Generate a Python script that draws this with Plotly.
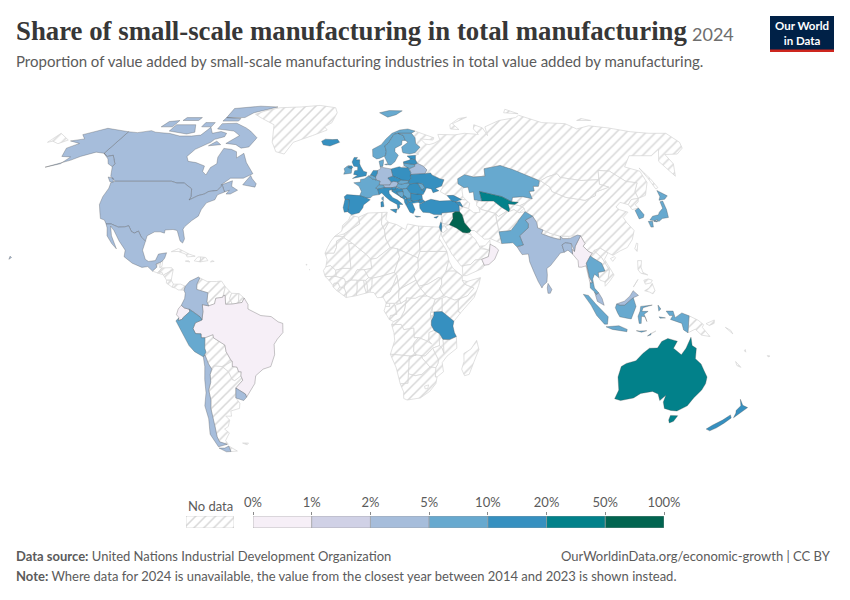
import numpy as np
import plotly.graph_objects as go

# --- legend / classes ---
bin_labels = ["0%", "1%", "2%", "5%", "10%", "20%", "50%", "100%"]
bin_colors = ["#f6eff7", "#d0d1e6", "#a6bddb", "#67a9cf", "#3690c0", "#02818a", "#016450"]

# countries with data, by class (index into bin_colors)
class_0 = ["Brazil", "Ecuador", "Oman", "Myanmar"]
class_2 = ["Canada", "USA", "Mexico", "Colombia", "Chile", "Uruguay", "Germany", "Austria", "Belarus",
           "India", "Bangladesh", "Sri Lanka", "Malaysia"]
class_3 = ["Peru", "Norway", "Sweden", "Finland", "Denmark", "France", "Ireland", "Belgium", "Switzerland",
           "Lithuania", "Hungary", "Slovakia", "Serbia", "Bosnia", "Moldova", "Kazakhstan", "Pakistan",
           "Thailand", "Indonesia", "Japan", "South Korea"]
class_4 = ["Iceland", "UK", "Spain", "Portugal", "Italy", "Netherlands", "Poland", "Czechia", "Slovenia",
           "Croatia", "Montenegro", "Albania", "North Macedonia", "Greece", "Bulgaria", "Romania", "Ukraine",
           "Estonia", "Latvia", "Turkey", "Cyprus", "Georgia", "Armenia", "Israel", "Tanzania", "New Zealand"]
class_5 = ["Uzbekistan", "Australia"]
class_6 = ["Iraq"]
classes = [class_0, [], class_2, class_3, class_4, class_5, class_6]

# --- simplified outlines, "lon,lat lon,lat ..." per ring ---
OUTLINES = {
    "Canada": ["-141,69.7 -135,69.3 -128,70.2 -124.5,69.5 -115,68.9 -108,67.8 -101,67.8 -96,68.2 -94,71.8 -90,69 -85.5,69.8 -81.5,69 -81.3,67.5 -86,66.3 -87,65 -93,62 -94.8,59 -92.5,57 -88,56.5 -82.5,55.1 -82,52.9 -79.5,51.5 -79,54.5 -76.7,56 -78,58.7 -77.5,62.4 -73,62 -69.5,61 -67.8,58.4 -65,60.3 -61.5,56.5 -57,53 -56,52 -60,50.2 -66.4,50.2 -70,47.5 -65,49.2 -64.5,47 -61,45.5 -64,44 -66,44 -65,45.5 -67,44.8 -67.8,45.7 -69.2,47.4 -70.8,45.4 -74.7,45 -76.5,44 -79.2,43.4 -82.7,41.7 -82.4,43 -83.5,46 -88.4,48.3 -92,48.3 -95.15,49 -100,49 -110,49 -123,49 -127,51 -130,54.8 -130,56 -135,59.5 -137.5,59 -141,60.3",
               "-80,73.7 -72,71.5 -68,70 -62,67 -64,63 -68,62.5 -72,64 -78,64.5 -73,68 -78,70 -89,71 -89,73.5",
               "-117,70 -105,68.7 -101,69.5 -105,73 -117,73", "-125,72 -118,72 -118,75 -124,74.5",
               "-90,76.5 -78,76.5 -75,79 -62,82.5 -75,83 -92,81.5", "-90,74.7 -80,74.7 -80,76 -90,76.5",
               "-116,75 -106,75 -106,76.5 -116,76.5", "-59.3,47.6 -55.5,46.9 -53,46.7 -52.8,48 -55.5,50 -56.8,51.3 -58,49.5",
               "-128,50.7 -125,50.2 -123.5,48.5 -125.5,48.8", "-87,63.5 -80.5,64 -84,65.5", "-100,72 -94,72 -94,74 -100,74"],
    "USA": ["-123,49 -110,49 -100,49 -95.15,49 -92,48.3 -88.4,48.3 -83.5,46 -82.4,43 -82.7,41.7 -79.2,43.4 -76.5,44 -74.7,45 -70.8,45.4 -69.2,47.4 -67.8,45.7 -67,44.8 -70,43.7 -70.5,41.8 -74,40.6 -75.5,38 -76,35.5 -78.5,33.8 -81,31.5 -81.5,30.5 -80,26.8 -80.5,25.2 -81.8,26 -82.8,28 -84,30 -86,30.4 -89.5,30.2 -89.5,29 -91.5,29.5 -94,29.5 -97,28 -97.2,25.9 -99.5,27.5 -101.4,29.8 -103,29 -104.5,29.6 -106.5,31.8 -108.2,31.4 -111,31.3 -114.8,32.5 -117.1,32.5 -118.5,34 -120.6,34.6 -122,36.8 -124,40 -124.5,43 -124,46.3 -124.7,48.4",
            "-141,69.7 -148,70.4 -156.5,71.3 -166,68.4 -161.5,66.5 -168,65.6 -161,64.5 -165,62.5 -162,59 -157,58.8 -158.5,56 -164.5,54.6 -155,57.5 -152,59 -149,60 -146,60.8 -141,60.3 -137.5,59 -135,59.5 -130,56 -130,54.8 -133.5,56 -136,58 -139.5,59.7 -141,60.3",
            "-156,19 -155,19.7 -155.8,20.2", "-158.2,21.3 -157.7,21.3 -158,21.7"],
    "Mexico": ["-117.1,32.5 -114.8,32.5 -111,31.3 -108.2,31.4 -106.5,31.8 -104.5,29.6 -103,29 -101.4,29.8 -99.5,27.5 -97.2,25.9 -97.8,22.5 -96,19 -94.5,18.2 -91.5,18.5 -90.5,21 -87,21.5 -87.5,19.5 -88.2,18.5 -89.1,17.9 -91,17.2 -90.5,16 -92.2,14.5 -94.5,16.2 -97,15.9 -101.5,17.5 -105.5,20 -105.5,22.5 -109,26 -112.5,30 -114.7,31.7 -113,28 -110,24 -109.5,23 -112,25 -115,28 -116,31"],
    "Guatemala": ["-92.2,14.5 -90.5,16 -91,17.2 -89.1,17.9 -89.2,15.9 -88.2,15.7 -89.3,14.4 -90,13.8"],
    "Belize": ["-89.1,17.9 -88.2,18.5 -88.3,16.3 -89.2,15.9"],
    "Honduras": ["-89.3,14.4 -88.2,15.7 -84,15.8 -83.2,15 -85,14 -87.3,13"],
    "El Salvador": ["-90,13.8 -89.3,14.4 -87.7,13.8 -87.8,13.2"],
    "Nicaragua": ["-87.3,13 -85,14 -83.2,15 -83.7,11 -85.7,11"],
    "Costa Rica": ["-85.7,11 -83.7,11 -82.6,9.5 -83,8.3 -85.7,9.9"],
    "Panama": ["-83,8.3 -82.6,9.5 -79.5,9.5 -77.4,8.7 -77.9,7.2 -80.4,7.3 -81.7,8"],
    "Cuba": ["-85,21.9 -82,23.1 -77,21 -74.2,20.2 -77.7,19.9 -78.5,21 -82,22"],
    "Haiti": ["-74.4,18.4 -71.7,18 -71.7,19.9 -73,19.9"],
    "Dominican Republic": ["-71.7,18 -68.4,18.5 -69.5,19.7 -71.7,19.9"],
    "Jamaica": ["-78.3,18.3 -76.3,18 -77,18.5"],
    "Puerto Rico": ["-67.2,18 -65.6,18.2 -66.5,18.5"],
    "Greenland": ["-73,78.2 -68,80 -60,82 -45,82.5 -32,83.5 -20,82 -18,79 -20,74 -24,72 -22,70.5 -30,68 -40,65 -43,60 -48,61 -52,65 -54,69 -56,73 -66,76"],
    "Colombia": ["-77.9,7.2 -77.4,8.7 -75.6,10.6 -72,12.2 -71.3,11.8 -72.4,9.5 -72.4,7.5 -70,7 -67.5,6.2 -67.8,2.8 -67,1.2 -69.8,1.7 -69.5,-1 -70,-4.2 -70.8,-3 -73.5,-1.2 -75.4,-0.1 -77.5,0.4 -78.9,1.4 -77.5,4 -77.3,6"],
    "Venezuela": ["-72,12.2 -68,10.5 -64,10.5 -61.8,10.7 -60,8.5 -60.7,5.2 -61,4.5 -64,4.1 -64.5,2 -67,1.2 -67.8,2.8 -67.5,6.2 -70,7 -72.4,7.5 -72.4,9.5 -71.3,11.8"],
    "Guyana": ["-60,8.5 -57.2,6 -58,4 -56.8,1.9 -59.7,1.8 -60,5.2 -60.7,5.2"],
    "Suriname": ["-57.2,6 -54,5.9 -54.2,2.2 -56.8,1.9 -58,4"],
    "French Guiana": ["-54,5.9 -51.7,4.2 -52.6,2.5 -54.2,2.2"],
    "Ecuador": ["-78.9,1.4 -77.5,0.4 -75.4,-0.1 -75.2,-1 -78.3,-3.4 -78.4,-3.9 -80.3,-4.4 -80,-3.2 -81,-2.2 -80.2,0"],
    "Peru": ["-81.3,-4.5 -80,-3.4 -80.3,-4.4 -78.4,-3.9 -78.3,-3.4 -75.2,-1 -75.4,-0.1 -73.5,-1.2 -70.8,-3 -70,-4.2 -72.9,-5.3 -74,-7.5 -73,-9.4 -70.6,-9.5 -70.6,-11 -69,-11 -69.4,-15 -69,-16.5 -69.6,-17.5 -70.4,-18.3 -74,-16.3 -76.2,-14 -78,-10.5 -79.8,-7.2"],
    "Brazil": ["-51.7,4.2 -50,1.7 -50,0 -48,-1 -44.5,-2.5 -40,-2.9 -37,-4.9 -35,-5.5 -35,-9 -37.5,-11.5 -39,-13.5 -39,-17.5 -41,-22 -44.5,-23 -48,-25.5 -48.8,-28.5 -52,-32 -53.4,-33.7 -53.7,-32.5 -57.6,-30.2 -54,-27.2 -54.6,-25.6 -54.3,-24 -55.4,-24 -56,-22.2 -58,-22 -57.8,-20 -58.2,-19.8 -60.2,-16.3 -60.5,-13.8 -65.3,-11 -65.4,-9.8 -69,-11 -70.6,-11 -70.6,-9.5 -73,-9.4 -74,-7.5 -72.9,-5.3 -70,-4.2 -69.5,-1 -69.8,1.7 -67,1.2 -64.5,2 -64,4.1 -61,4.5 -60.7,5.2 -60,5.2 -59.7,1.8 -56.8,1.9 -54.2,2.2 -52.6,2.5"],
    "Bolivia": ["-69,-11 -65.4,-9.8 -65.3,-11 -60.5,-13.8 -60.2,-16.3 -58.2,-19.8 -58.2,-20.2 -62.5,-22 -66.3,-21.8 -67.2,-23 -68.4,-21 -69.6,-17.5 -69,-16.5 -69.4,-15"],
    "Paraguay": ["-58.2,-19.8 -57.8,-20 -58,-22 -56,-22.2 -55.4,-24 -54.3,-24 -54.6,-25.6 -57.6,-27.4 -58.7,-27 -60,-24 -62.5,-22 -58.2,-20.2"],
    "Uruguay": ["-57.6,-30.2 -53.7,-32.5 -53.4,-33.7 -55,-35 -58.4,-34 -58.2,-33"],
    "Chile": ["-70.4,-18.3 -69.6,-17.5 -68.4,-21 -67.2,-23 -68.2,-25 -68.5,-28 -70,-31 -70,-35 -71,-38 -71.5,-42 -71.7,-45 -72.5,-49 -72.3,-51 -69,-52 -74,-53 -75.5,-48 -73.5,-42 -73.5,-37 -71.5,-32 -71,-27 -70.2,-22",
              "-68.6,-52.7 -68.6,-54.9 -71,-55 -74,-53.5 -71,-53.5"],
    "Argentina": ["-66.3,-21.8 -62.5,-22 -60,-24 -58.7,-27 -57.6,-27.4 -54.6,-25.6 -54,-27.2 -57.6,-30.2 -58.2,-33 -58.4,-34 -57,-36 -57.7,-38 -62,-39 -62.3,-41 -65,-41 -63.7,-42.5 -65.3,-45 -67.5,-46 -65.8,-47.5 -69,-50.5 -68.5,-52 -69,-52 -72.3,-51 -72.5,-49 -71.7,-45 -71.5,-42 -71,-38 -70,-35 -70,-31 -68.5,-28 -68.2,-25 -67.2,-23",
                  "-68.6,-52.7 -65.2,-54.7 -68.6,-54.9"],
    "Falklands": ["-61,-51.5 -58,-51.5 -59,-52.2"],
    "Morocco": ["-5.9,35.8 -2.2,35.1 -1.7,32.5 -3.5,31.5 -8.7,28.7 -13,27.7 -9.8,29.8 -9.5,32 -6.8,34"],
    "Western Sahara": ["-13,27.7 -8.7,27.7 -12,26 -12,23.4 -13,21.3 -17,21.3 -16,23.5 -14.5,26"],
    "Algeria": ["-2.2,35.1 2,36.7 8.6,36.9 8.2,32.5 9.5,30.2 9.9,27 11.9,23.5 5.8,19.4 3.2,19 1.1,20.9 -4.8,25 -8.7,27.2 -8.7,28.7 -3.5,31.5 -1.7,32.5"],
    "Tunisia": ["8.6,36.9 11,37 10.2,34.3 11.5,33.1 9.5,30.2 8.2,32.5"],
    "Libya": ["11.5,33.1 15,32.3 19,30.3 20,32.5 25,31.7 25,22 24,19.5 15,23 11.9,23.5 9.9,27 9.5,30.2"],
    "Egypt": ["25,31.7 31,31.5 34.2,31.3 35,29.5 33.8,27 35.8,23.9 36.9,22 25,22"],
    "Mauritania": ["-17,21.3 -13,21.3 -12,23.4 -12,26 -8.7,27.2 -4.8,25 -6.5,25 -5.5,15.5 -9.3,15.5 -12.2,14.8 -14.5,16.6 -16.5,16.1 -16,19"],
    "Mali": ["-4.8,25 1.1,20.9 3.2,19 3.6,15.5 0.3,15 -2.8,15 -5.3,11 -7.9,10.3 -8.3,11.5 -12,12.4 -12.2,14.8 -9.3,15.5 -5.5,15.5 -6.5,25"],
    "Niger": ["3.2,19 5.8,19.4 11.9,23.5 15,23 15.9,20 13.5,14 9,12.8 3.7,11.7 2.2,12 0.3,15 3.6,15.5"],
    "Chad": ["15,23 24,19.5 24,15.7 22,13 22.9,11 19,9 15.5,7.5 15,10 14.5,12.8 13.5,14 15.9,20"],
    "Sudan": ["24,19.5 25,22 36.9,22 37.5,18.5 36,14.3 34,11.5 32.7,12 28,9.5 24,8.7 22.9,11 22,13 24,15.7"],
    "South Sudan": ["24,8.7 28,9.5 32.7,12 34,11.5 34,9.5 33,7.8 35,5 31,3.7 27.4,5 24.5,8"],
    "Eritrea": ["36,14.3 37.5,18.5 39,15.7 43.1,12.6 40,14.5 37,14.5"],
    "Ethiopia": ["36,14.3 37,14.5 40,14.5 43.1,12.6 43,11 44,9.5 48,8 45,5 42,4 39.5,3.4 35.9,4.7 35,5 33,7.8 34,9.5 34,11.5"],
    "Somalia": ["43,11 45,10.5 51,12 50,9 48,4.5 42,-1.5 41,-1 41,3.5 42,4 45,5 48,8 44,9.5"],
    "Kenya": ["35.9,4.7 39.5,3.4 42,4 41,3.5 41,-1 42,-1.5 39.2,-4.7 37.7,-3.6 34,-1 34,4.2"],
    "Uganda": ["31,3.7 34,4.2 34,-1 30.5,-1.1 29.6,-1.3 30,1"],
    "Tanzania": ["30.5,-1.1 34,-1 37.7,-3.6 39.2,-4.7 38.8,-6.5 39.5,-9 40.4,-10.5 37.5,-11.7 34.6,-11.6 33,-9.4 30.7,-8.2 29.4,-6.2 29.4,-4.5 30.5,-2.5"],
    "Rwanda": ["29,-1.4 30.5,-1.1 30.5,-2.5 29,-2.7"],
    "Burundi": ["29,-2.7 30.5,-2.5 29.4,-4.5"],
    "DR Congo": ["12.2,-6 13,-4.8 16,-3.5 17.7,-0.5 18.5,3.5 18.6,4.3 22.4,4.1 24.5,5 27.4,5 31,3.7 30,1 29,-1.4 29,-2.7 29.4,-4.5 29.4,-6.2 30.7,-8.2 28.5,-9 28.5,-12.2 29.8,-13.4 27,-12 23.9,-10.9 22,-11 21.8,-7.3 17.5,-7.9 16.3,-5.9"],
    "Congo": ["11.2,-4 13,-4.8 16,-3.5 17.7,-0.5 18.5,3.5 16.2,2.2 13.8,1.5 14.4,-2 11.6,-2.5"],
    "Gabon": ["8.9,-0.7 9.5,1 11.3,1 11.3,2.2 13.3,2.2 14.4,-2 11.6,-2.5 11.2,-4"],
    "Equatorial Guinea": ["9.5,1 9.8,2.3 11.3,2.2 11.3,1"],
    "Cameroon": ["8.5,4.5 9.8,2.3 11.3,2.2 16.2,2.2 15.2,4.5 15.5,7.5 15,10 14.5,12.8 13,9.5 11.5,6.5 8.9,5.8"],
    "CAR": ["15.2,4.5 16.2,2.2 18.5,3.5 18.6,4.3 22.4,4.1 24.5,5 27.4,5 24.5,8 24,8.7 22.9,11 19,9 15.5,7.5"],
    "Nigeria": ["2.7,6.4 4.5,6.3 6,4.3 8.5,4.5 8.9,5.8 11.5,6.5 13,9.5 14.5,12.8 13.5,14 9,12.8 3.7,11.7 3.6,9"],
    "Benin": ["1.6,6.2 2.7,6.4 3.6,9 3.7,11.7 2.2,12 0.9,11 1.6,9"],
    "Togo": ["1.2,6.1 1.6,6.2 1.6,9 0.9,11 0,11 0.5,8"],
    "Ghana": ["-3.1,5.1 1.2,6.1 0.5,8 0,11 -2.9,11 -2.8,8"],
    "Burkina Faso": ["-5.3,11 -2.8,15 0.3,15 2.2,12 0.9,11 -2.9,11"],
    "Cote d'Ivoire": ["-7.5,4.4 -3.1,5.1 -2.8,8 -2.9,11 -5.3,11 -7.9,10.3 -8.4,8 -7.5,6"],
    "Liberia": ["-11.5,7 -7.5,4.4 -7.5,6 -8.4,8 -9.5,8.4 -10.3,8.5"],
    "Sierra Leone": ["-13.3,8.5 -11.5,7 -10.3,8.5 -11,10 -12.8,9.9"],
    "Guinea": ["-15,11 -13.3,9 -12.8,9.9 -11,10 -10.3,8.5 -9.5,8.4 -8.4,8 -7.9,10.3 -8.3,11.5 -12,12.4 -13.7,12.5"],
    "Guinea-Bissau": ["-16.7,12.4 -15,11 -13.7,12.5"],
    "Senegal": ["-17.5,14.7 -16.7,12.4 -13.7,12.5 -12,12.4 -12.2,14.8 -14.5,16.6 -16.5,16.1"],
    "Angola": ["12.2,-6 16.3,-5.9 17.5,-7.9 21.8,-7.3 22,-11 23.9,-10.9 22,-13 22,-16.2 23.2,-17.6 20.8,-18 13.8,-17.4 11.8,-17.3 13.6,-12 13.2,-9"],
    "Zambia": ["22,-13 23.9,-10.9 27,-12 29.8,-13.4 28.5,-12.2 28.5,-9 30.7,-8.2 33,-9.4 33,-11 33.2,-14 30.2,-15 28.8,-16.5 27,-18 25.3,-17.8 23.2,-17.6 22,-16.2"],
    "Malawi": ["33,-9.4 34.6,-11.6 35,-14 35.3,-17 34.3,-15 33.2,-14 33,-11"],
    "Mozambique": ["40.4,-10.5 40.8,-15 36.7,-18 34.7,-20.5 35.5,-24 32.8,-26 32,-26 32,-22.4 32.8,-21 33,-19.5 30.2,-15 33.2,-14 34.3,-15 35.3,-17 35,-14 34.6,-11.6 37.5,-11.7"],
    "Zimbabwe": ["25.3,-17.8 27,-18 28.8,-16.5 30.2,-15 33,-19.5 32.8,-21 32,-22.4 29.4,-22.2 26,-19"],
    "Botswana": ["20,-22 20,-18.3 23.2,-17.6 25.3,-17.8 26,-19 29.4,-22.2 26,-25 23,-25.5 20,-24.8"],
    "Namibia": ["11.8,-17.3 13.8,-17.4 20.8,-18 23.2,-17.6 20,-18.3 20,-22 20,-28.4 16.5,-28.6 14.5,-22.5"],
    "South Africa": ["16.5,-28.6 20,-28.4 20,-24.8 23,-25.5 26,-25 29.4,-22.2 32,-22.4 32,-26 32.8,-26 32.5,-28.5 30,-31.5 26,-34 20,-34.8 18.4,-34.2 18.2,-31.7"],
    "Lesotho": ["27.5,-29.5 29.3,-29 29,-30.4 27.8,-30.5"],
    "Madagascar": ["49.3,-12 50.5,-15.5 49.5,-18 47,-25 45,-25.5 43.5,-23 44.3,-20 44,-17 47,-15.3"],
    "Cape Verde": ["-25.2,17 -24.8,17.1 -25,16.7", "-23.7,15 -23.4,15.1 -23.6,15.3"],
    "Iceland": ["-24,65.5 -22,66.4 -18,66.2 -15,66.3 -13.6,65 -18.8,63.4 -22.7,63.9"],
    "Ireland": ["-10,51.8 -6.2,52.2 -6,53.5 -6.2,54.2 -8,54.5 -7.4,55.3 -8.5,55 -10,54 -9.5,53"],
    "UK": ["-5.5,50.1 -1,50.7 1.3,51.2 1.7,52.6 0,53 -1.5,55 -2,56 -2,57.6 -4,57.6 -3.2,58.6 -5,58.6 -6,56.7 -5,55 -3,54.8 -3,53.4 -4.5,53.2 -5,51.7 -3,51.4",
           "-6,54 -5.5,54.6 -6.2,55.2 -7.4,55.1 -8,54.5"],
    "Portugal": ["-8.9,37 -7.4,37.2 -7,39 -6.9,41.9 -8.8,41.9 -9.5,38.8"],
    "Spain": ["-7.4,37.2 -5.5,36 -2,36.8 -0.3,38.7 0,39.8 3.2,41.8 1.5,42.5 -1.8,43.4 -8,43.8 -9.2,43 -8.8,41.9 -6.9,41.9 -7,39"],
    "France": ["-1.8,43.4 1.5,42.5 3.2,42.5 4.5,43.4 7.5,43.8 7,45.5 7,45.9 6,46.3 7.6,47.6 8.2,49 6.2,49.5 4.3,50 2.5,51.1 0.5,50 -1.5,49.7 -1.5,48.7 -4.8,48.4 -2.2,47 -1,45",
               "8.7,42 9.4,41.4 9.5,43 8.7,42.6"],
    "Belgium": ["2.5,51.1 4.3,51.4 6,50.7 6.2,49.5 4.3,50"],
    "Netherlands": ["3.4,51.4 4.3,51.4 6,50.7 7,52.2 7.2,53.3 5,53.3"],
    "Germany": ["6,50.7 7,52.2 7.2,53.3 8.8,54 8.6,54.9 10,54.5 14.2,53.9 14.8,51 12.2,50.3 13.8,48.7 13,47.5 9.6,47.5 7.6,47.6 8.2,49 6.2,49.5"],
    "Switzerland": ["6,46.3 7,45.9 10.4,46.5 9.6,47.5 7.6,47.6"],
    "Austria": ["9.6,47.5 10.4,46.5 13.8,46.5 16.1,46.8 17,48.1 17,48.7 15,49 13.8,48.7 13,47.5"],
    "Italy": ["7.5,43.8 8.8,44.4 10.5,43 12.5,41.5 15.8,40 16,38 17,39 16.8,40 18.5,40 16.2,41.7 14,42.6 12.4,44.2 12.3,45.4 13.7,45.7 13.8,46.5 10.4,46.5 7,45.9 7,45.5",
              "12.5,38 15.6,38.2 15.1,36.7", "8.2,39 9.6,39.2 9.3,41.2 8.2,40.9"],
    "Denmark": ["8.6,54.9 10,54.9 10.5,56.5 10.6,57.7 8.2,57", "11,55.7 12.5,55.5 12.5,56"],
    "Norway": ["5,59 7,58 8.5,58.2 10.7,59 11.8,59.3 12.5,61 12,63.5 14,64.5 15.5,66.2 18,68.5 20.5,69 25.5,69 28.5,69 31,70 27,71 22,70.5 17,69 13,66.5 10,64 5,62",
               "11,79 16,76.7 22,78 27,80 18,80.2"],
    "Sweden": ["11.2,59 13,55.5 14.3,55.5 16.5,56.8 18.8,59.5 17.2,61 17.5,62.5 21.5,64 22.2,65.8 24,65.8 23.5,68 20.5,69 18,68.5 15.5,66.2 14,64.5 12,63.5 12.5,61 11.8,59.3"],
    "Finland": ["21.5,60.5 25,60 28,60.5 31.5,62.9 29.5,64.5 30,67 28.5,69 25.5,69 20.5,69 23.5,68 24,65.8 25.3,65 21.3,63 21.3,61"],
    "Estonia": ["23.4,59.2 28,59.5 27.5,57.6 25,58"],
    "Latvia": ["21,56.8 24.3,57.5 25,58 27.5,57.6 28.2,56.2 26.5,55.7 21,56.3"],
    "Lithuania": ["21,56.3 26.5,55.7 26.6,55 23.5,54 21,55.3"],
    "Poland": ["14.2,53.9 18.5,54.8 19.8,54.4 23,54.4 24,52.5 23.5,51 24,50.4 22.7,49.2 19,49.5 14.8,51"],
    "Czechia": ["12.2,50.3 14.8,51 18.8,49.6 17,48.7 15,49 13.8,48.7"],
    "Slovakia": ["17,48.1 17,48.7 18.8,49.6 22.5,49.2 22,48.4 18.7,47.9"],
    "Hungary": ["16.1,46.8 17,48.1 18.7,47.9 22,48.4 22.9,48 21,46.2 18.8,45.9"],
    "Slovenia": ["13.7,45.5 13.8,46.5 16.1,46.8 15.5,45.5"],
    "Croatia": ["13.6,45.1 14,45.1 13.7,45.5 15.5,45.5 16.1,46.5 18.8,45.9 19,45 15.8,44.8 17.5,43 18.5,42.5 15.5,44"],
    "Bosnia": ["15.8,44.8 19,45 19.2,43.5 18.5,42.5 17.5,43"],
    "Serbia": ["18.8,45.9 21,46.2 22.7,44.3 22.5,42.4 20.5,42.3 19.2,43.5 19,45"],
    "Montenegro": ["18.5,42.5 19.2,43.5 20.5,42.8 19.3,41.9"],
    "Albania": ["19.3,41.9 20.5,42.4 21,40.7 20,39.7 19.4,40.7"],
    "North Macedonia": ["20.5,42.3 22.5,42.4 23,41.3 21,40.9"],
    "Greece": ["20,39.7 21,40.7 23,41.3 26.3,41.6 26,40.8 23,40.4 24,38 23,36.5 21.5,37", "23.6,35.6 26.3,35.3 24.5,35.1"],
    "Bulgaria": ["22.5,42.4 22.7,44.3 28,43.8 28,42 26.3,41.6 23,41.3"],
    "Romania": ["22.9,48 26.6,48.3 28.2,45.6 29.6,45 28.6,43.8 28,43.8 22.7,44.3 21,46.2"],
    "Moldova": ["26.6,48.3 29,48 30,46.4 28.2,45.6"],
    "Ukraine": ["22.7,49.2 24,50.4 23.5,51 24,51.7 31,52 34,52.3 34.5,51.5 38,50 40,49.6 38.2,47.1 35,46.2 36.5,45.3 33.5,44.5 33,46 30.7,46.4 29.6,45 28.2,45.6 30,46.4 29,48 26.6,48.3 22.9,48 22,48.4 22.5,49.2"],
    "Belarus": ["23.5,51 24,52.5 23.5,54 26.6,55 26.5,55.7 28.2,56.2 31,55 32.5,53.5 31,52 24,51.7"],
    "Turkey": ["26.3,40 29,41.1 32,42 36,41.3 41.5,41.5 43.5,41 44.8,39.7 44.5,37.2 42.5,37.2 38,36.8 36.2,36.7 36,36 32.5,36.1 30.5,36.8 27.5,37 26.3,38.5",
               "26.3,41.6 28,42 29,41.2 26.5,40.3 26,40.8"],
    "Cyprus": ["32.3,35 34.5,35.6 33.5,34.7"],
    "Georgia": ["40,43.4 43,43.5 46.5,41.9 43.5,41 41.5,41.5"],
    "Armenia": ["43.5,41 45.5,41 46.5,39 44.8,39.7"],
    "Azerbaijan": ["45.5,41 46.5,41.9 48.5,41.8 50,40.5 49,38.4 46.5,39"],
    "Russia": ["28.2,56.2 27.5,57.6 28,59.5 30,60 28,60.5 31.5,62.9 29.5,64.5 30,67 28.5,69 31,70 33,69.4 41,67 40,66 35,66.5 33,66.5 35,64.3 37,64 40,64.6 44,66 44,68.5 54,68.3 60,69 68,68.5 67,71 69,73 73,71.5 73,68 75,72 81,73.5 87,75 100,76.5 104,77.7 113,74 127,73.5 130,71 140,72.5 150,71.5 160,69.7 170,69 180,69 180,65 177,62.5 170,60 163,59.8 162,56 156.7,51 155.7,57 163,62 155,59.3 143,59.3 135,54.7 141,53 140,48.5 135,43.5 130.7,42.3 131,45 135,48.4 130,48.9 126.9,51.5 125.5,53 120,53.3 117,49.6 108,49.3 98.5,50.5 98,52 92,50.7 87.8,49.2 83,51 77,53.5 71,55.3 62,54 61,51 55,50.7 51,51.6 47,50 46.5,48 49,46.5 47.7,45.7 47.5,43 48.5,41.8 46.5,41.9 43,43.5 40,43.4 37,45 39,47 38.2,47.1 40,49.6 38,50 34.5,51.5 34,52.3 31,52 32.5,53.5 31,55",
               "-180,69 -175,67.5 -170,66 -173,64.4 -178,65.5 -180,65", "142,54.3 143,50 143.5,46.5 142,46 142,50",
               "53,71 58,70.7 56,73.5 68,76.7 62,76 54,73", "96,79 105,78.5 100,81", "137,75 146,75 142,76",
               "19.8,54.4 23,54.4 22.5,55 20.8,55.2"],
    "Kazakhstan": ["47,50 51,51.6 55,50.7 61,51 62,54 71,55.3 77,53.5 83,51 87.3,49.2 85.5,47 83,47 82.5,45.2 80,45 80.2,42.2 76,43 71,42.7 70,41 66,43 61,44 56,45 56,41.3 53,42 52.5,41.8 53,44.8 51,44.5 51,46.7 49,46.5 46.5,48"],
    "Uzbekistan": ["56,45 61,44 66,43 70,41 73,40.8 71,40 68,40.2 68,38 67.4,37.2 64.5,38.9 61.5,41.3 57,41.3 56,41.3"],
    "Turkmenistan": ["52.5,41.8 53,42 56,41.3 57,41.3 61.5,41.3 64.5,38.9 67.4,37.2 66.5,37.4 62,35.3 61,36.5 55,38 53.8,39 53,39.5 53.5,41"],
    "Tajikistan": ["68,38 68,40.2 71,40 73,39.5 75,38.5 72,36.8 70,38 67.4,37.2"],
    "Kyrgyzstan": ["70,41 71,42.7 76,43 80.2,42.2 76,40.4 73,39.5 71,40 73,40.8"],
    "Afghanistan": ["61,36.5 62,35.3 66.5,37.4 67.4,37.2 70,38 72,36.8 74.9,37.2 71,34 70,33 66.5,30 61,29.5 60.8,33.5"],
    "Pakistan": ["61.5,25 66.5,25.3 68,23.8 71,24.5 70,28 74.5,31 75,32.5 74,34 77.8,35.5 74.9,37.2 71,34 70,33 66.5,30 61,29.5"],
    "Iran": ["44.8,39.7 46.5,39 49,38.4 51,36.8 54,37 53.8,39 55,38 61,36.5 60.8,33.5 61,29.5 61.5,25 57,26.8 54,26.7 50,30 48.5,30 46,33 45.5,36 44.5,37.2"],
    "Iraq": ["42.5,37.2 44.5,37.2 45.5,36 46,33 48.5,30 47.7,29.2 46.5,29.1 44.7,29.2 42,31 39,32.2 41,34.5 41.2,36.5"],
    "Syria": ["36.2,36.7 38,36.8 42.5,37.2 41.2,36.5 41,34.5 39,32.2 36,32.7 35.8,35.5"],
    "Jordan": ["35,29.5 35.5,31.5 35.6,32.7 36,32.7 39,32.2 37,31.5 38,30.5 36,29.2"],
    "Lebanon": ["35.1,33.1 35.8,33.3 36.3,34.5 35.9,34.5"],
    "Israel": ["34.3,31.3 35.1,33.1 35.6,33 35.5,31.5 35,29.5"],
    "Saudi Arabia": ["35,29.5 36,29.2 38,30.5 37,31.5 39,32.2 42,31 44.7,29.2 46.5,29.1 47.7,28.5 48.5,28 50,26.5 51,24.5 52,23 55,22.7 55.7,22 55,20 52,19 49,18.7 47,17 43.3,16.5 42.8,16.4 39,21 37,24.5 35,28"],
    "Kuwait": ["46.5,29.1 47.7,29.2 48.4,28.5 47.7,28.5"],
    "UAE": ["51.5,24 54,24.2 56.4,26.3 56.3,24.8 55.7,22 55,22.7 52,23.5"],
    "Oman": ["56.3,24.8 58.7,23.6 59.8,22.5 57.7,19 55,17 53,16.7 52,19 55,20 55.7,22"],
    "Yemen": ["43.3,12.7 45,12.8 52,15.5 53,16.7 52,19 49,18.7 47,17 43.3,16.5"],
    "India": ["68.2,23.7 71,24.5 70,28 74.5,31 75,32.5 74,34 77.8,35.5 79,33 78.8,31 81,30.2 80,28.8 84,27.4 88,26.5 88.2,27.8 89,26.9 92,26.9 96,28.3 97.3,28 94,24 93.3,22 92.4,25 89.8,25.3 88.2,24.5 88.8,21.7 87,21.4 85,19.5 82,16.6 80.2,15.5 80.2,13 79.8,10.3 78,8.9 77.5,8 76,10.5 74.5,14 73,18 72.8,21 70,20.8 69,22.3"],
    "Nepal": ["80,28.8 81,30.2 84,28.9 88.2,27.8 88,26.5 84,27.4"],
    "Bhutan": ["89,26.9 88.8,27.9 92,27.8 92,26.9"],
    "Bangladesh": ["88.2,24.5 89.8,25.3 92.4,25 92.4,22.8 92.3,21 90.5,22.5 88.8,21.7"],
    "Sri Lanka": ["79.8,8 80.2,9.8 81.8,7.5 81,6 80,6"],
    "Myanmar": ["92.3,21 92.4,22.8 93.3,22 94,24 97.3,28 98.5,25 97.5,24 99.5,22 101,21.3 100,20.3 97.8,17.5 98.5,12 99.6,10 98.5,10 97.5,16.5 95.5,16 94.2,16 94.3,18.5"],
    "Thailand": ["97.8,17.5 100,20.3 101,19.5 104.5,17.5 105.5,14.5 102.5,14 102.5,12 100.8,13.3 99.8,11.5 100,9 100.3,8 102,6.2 101,5.6 100.2,6.6 98.5,8 98.5,10 99.6,10 98.5,12"],
    "Laos": ["100,20.3 101,21.3 102,22.4 105,19.5 107.5,15 105.5,14.5 104.5,17.5 101,19.5"],
    "Vietnam": ["102,22.4 105,23.3 108,21.5 106,19 109.3,13 107,10.5 105,8.7 105,10.4 106.5,11.5 107.5,15 105,19.5"],
    "Cambodia": ["102.5,12 102.5,14 105.5,14.5 107.5,15 106.5,11.5 105,10.4 103,11"],
    "Malaysia": ["100.2,6.6 101,5.6 102,6.2 103.4,4 104.2,1.4 101.3,2.9",
                 "109.6,1.9 111,1.4 113,1.4 115,2.9 116.9,4.3 119.2,5.2 117,7 115.4,4.9 113,3 111.3,2.5"],
    "Indonesia": ["109,0.5 109.6,1.9 111,1.4 113,1.4 115,2.9 116.9,4.3 118,1 116,-3.8 114,-3.5 111,-3 110,-1.5",
                  "95.3,5.6 97.5,5.2 100.5,2 103.5,-1 106,-3 105.8,-5.8 104.5,-5.8 101,-2.5 98.5,1.5",
                  "105.2,-6.8 108.5,-6.7 110.8,-6.4 114.5,-7.8 114.4,-8.7 108,-7.8",
                  "119.5,-5.5 120.4,-5.5 120.4,-2.8 122,-3 122.8,-4.8 121.5,-2 123.2,-0.9 120.5,-0.9 121,0.5 125,1.5 120,1 119.7,-0.8 118.9,-2.8",
                  "118.5,-8.3 120,-8.4 123,-8.3 120.8,-8.9", "123.5,-10.3 125,-9.3 124.9,-9.9", "127.5,1.5 128.7,0 127.8,-0.8",
                  "128,-3 130.8,-3.4 128.5,-3.5", "131,-0.8 134,-0.8 135,-3.3 137.8,-1.5 141,-2.6 141,-9.1 139,-8 138,-5.5 133,-4 134,-2.5 132.5,-2.5"],
    "Timor-Leste": ["125,-9.3 127,-8.4 125,-9.5"],
    "PNG": ["141,-2.6 145,-4.3 147.5,-6 147,-7 150.7,-10.5 147,-10 144,-7.7 141,-9.1", "148.5,-5.6 152,-4.2 152,-5.5 150,-6.3"],
    "Solomon Islands": ["157,-7 159.5,-8.2 160.5,-9.5"],
    "Vanuatu": ["167,-15.5 167.5,-16.5 166.8,-16"],
    "New Caledonia": ["164,-20.1 167,-22.3 165,-21.6"],
    "Fiji": ["177.3,-17.8 178.5,-18 177.8,-18.3"],
    "Philippines": ["120.5,18.5 122.2,18.5 121.5,16 122,14 124,13 121,13.7 120,15", "122,7 124,8 125.5,9.8 126.5,7 125.5,5.8 124,6.5",
                    "117.2,8.4 119.5,11.3 118.8,10", "122,11 124,11.5 125.7,11 125,10 122.5,9.5"],
    "Taiwan": ["120.2,23 121.5,25.2 122,25 121,22"],
    "China": ["73.5,39.5 75,38.5 74.9,37.2 77.8,35.5 79,33 78.8,31 81,30.2 84,28.9 88.2,27.8 88.8,27.9 92,27.8 97.3,28 98.5,25 97.5,24 99.5,22 101,21.3 102,22.4 105,23.3 108,21.5 110,20.5 113.5,22.2 117,23.5 120,26.5 122,30 120,33 119.2,35 122.5,37 119,38 118,39 121,40.8 124.3,39.9 126.9,41.8 128,42 130.7,42.3 131,45 135,48.4 130,48.9 126.9,51.5 125.5,53 120,53.3 117,49.6 116,47.8 119.7,46.7 112,44.8 111,43.4 105,41.6 96.5,42.7 91,45 91,46.7 87.8,49.2 85.5,47 83,47 82.5,45.2 80,45 80.2,42.2 76,40.4",
              "108.7,19.3 110.5,20 111,19.6 109.5,18.2"],
    "Mongolia": ["87.8,49.2 92,50.7 98,52 98.5,50.5 108,49.3 117,49.6 116,47.8 119.7,46.7 112,44.8 111,43.4 105,41.6 96.5,42.7 91,45 91,46.7"],
    "North Korea": ["124.3,39.9 125,38 128.3,38.6 127.5,39.8 129.7,41 130.7,42.3 128,42 126.9,41.8"],
    "South Korea": ["126.2,37.7 128.3,38.6 129.4,36 128.5,35 126.3,34.4"],
    "Japan": ["131,34 135,33.5 137,34.6 140,35 141,38 141.5,41.3 140,41 139.5,38.5 137,37 136,36 133,35.5",
              "140,41.6 143,42 145.3,43.3 142,45.4 141.5,43", "130,33.5 132,33.5 131.3,31.3 130.2,31.3", "132.5,33.5 134.5,34.2 134,33.3"],
    "Australia": ["114,-22 116,-20.8 120,-19.8 122.5,-17 125,-15 128.5,-14.9 130,-12.4 132.5,-11.3 135.5,-12 136.8,-12.3 135.5,-15 139.5,-17.5 141,-15 141.7,-13 142.5,-10.8 143.5,-14 145.5,-15 146,-19 149,-21 151,-23.5 153.2,-26 153.6,-28.5 153,-31 151,-34 150,-37 146.5,-39 143.5,-38.8 140,-38 138,-35.6 137.8,-33 136,-35 134,-32.5 131,-31.5 126,-32.3 123.5,-34 118,-35 115,-34.3 115.5,-31 113.5,-26",
                  "144.7,-40.7 148.2,-40.8 148,-43 146.5,-43.6 145.3,-42.5"],
    "New Zealand": ["172.7,-34.5 175.5,-36.8 178.5,-37.7 177,-39.5 175.3,-41.6 174.7,-39.8 174,-38.8 174.8,-37",
                    "172.8,-40.5 174.3,-41.7 172.8,-43.7 171,-45.5 169,-46.7 166.5,-46 168,-44.5 171,-42.5"],
}

# --- Robinson projection table ---
ROB_LAT = np.arange(0, 95, 5)
ROB_A = [1.0, 0.9986, 0.9954, 0.99, 0.9822, 0.973, 0.96, 0.9427, 0.9216, 0.8962, 0.8679, 0.835, 0.7986, 0.7597, 0.7186, 0.6732, 0.6213, 0.5722, 0.5322]
ROB_B = [0, 0.062, 0.124, 0.186, 0.248, 0.31, 0.372, 0.434, 0.4958, 0.5571, 0.6176, 0.6769, 0.7346, 0.7903, 0.8435, 0.8936, 0.9394, 0.9761, 1.0]

# the page keeps the browser's 8px body margin, so the figure starts at (8, 8)
PAGE = 8
W, H = 850 - 2 * PAGE, 600 - 2 * PAGE
MAP_R = 156.0    # px per unit
MAP_X0 = 363.5   # px of lon 0
MAP_Y0 = 309.0   # px of the equator

TEXT = "#5b5b5b"
BORDER_DATA = "rgba(70,70,70,0.5)"
BORDER_NONE = "#d4d4d4"
HATCH = dict(shape="/", size=7, solidity=0.22, fgcolor="#d8d8d8", bgcolor="#ffffff")


def robinson(lon, lat):
    lon = np.asarray(lon, dtype=float)
    lat = np.asarray(lat, dtype=float)
    a = np.interp(np.abs(lat), ROB_LAT, ROB_A)
    b = np.interp(np.abs(lat), ROB_LAT, ROB_B)
    return 0.8487 * a * np.radians(lon), 1.3523 * b * np.sign(lat)


def ring_xy(rings):
    xs, ys = [], []
    for ring in rings:
        pts = [p.split(",") for p in ring.split()]
        x, y = robinson([float(p[0]) for p in pts], [float(p[1]) for p in pts])
        xs += list(x) + [x[0], None]
        ys += list(y) + [y[0], None]
    return xs, ys


def fx(px):
    return (px - PAGE) / W


def fy(py):
    return 1 - (py - PAGE) / H


def label(text, x, y, size, color=TEXT, family="Lato", xanchor="left", yanchor="middle"):
    return dict(text=text, x=fx(x), y=fy(y), xref="paper", yref="paper", showarrow=False, align=xanchor,
                xanchor=xanchor, yanchor=yanchor, font=dict(size=size, color=color, family=family),
                borderpad=0, borderwidth=0)


fig = go.Figure()

color_of = {}
for colour, names in zip(bin_colors, classes):
    for name in names:
        color_of[name] = colour

# no-data countries first, so the darker borders stay on top
for name, rings in OUTLINES.items():
    if name in color_of:
        continue
    xs, ys = ring_xy(rings)
    fig.add_trace(go.Scatter(x=xs, y=ys, mode="lines", fill="toself", name=name, hoverinfo="name",
                             line=dict(color=BORDER_NONE, width=0.7), fillpattern=HATCH, fillcolor="#ffffff"))

for colour, names in zip(bin_colors, classes):
    for name in names:
        xs, ys = ring_xy(OUTLINES[name])
        fig.add_trace(go.Scatter(x=xs, y=ys, mode="lines", fill="toself", name=name, hoverinfo="name",
                                 line=dict(color=BORDER_DATA, width=0.6), fillcolor=colour))

# --- legend bars ---
fig.add_trace(go.Bar(x=[i + 0.5 for i in range(len(bin_colors))], y=[1] * len(bin_colors), width=1,
                     marker=dict(color=bin_colors, line=dict(color="#9a9a9a", width=0.6)),
                     xaxis="x2", yaxis="y2", hoverinfo="skip"))
fig.add_trace(go.Bar(x=[0.5], y=[1], width=1, xaxis="x3", yaxis="y3", hoverinfo="skip",
                     marker=dict(color="#ffffff", line=dict(color="#c8c8c8", width=0.6), pattern=HATCH)))

fig.update_layout(
    template="none",
    width=W, height=H, autosize=False, showlegend=False,
    margin=dict(l=0, r=0, t=0, b=0),
    paper_bgcolor="#ffffff", plot_bgcolor="#ffffff",
    xaxis=dict(range=[(PAGE - MAP_X0) / MAP_R, (PAGE + W - MAP_X0) / MAP_R], visible=False, fixedrange=True, domain=[0, 1]),
    yaxis=dict(range=[(MAP_Y0 - PAGE - H) / MAP_R, (MAP_Y0 - PAGE) / MAP_R], visible=False, fixedrange=True, domain=[0, 1]),
    xaxis2=dict(domain=[fx(253), fx(664)], range=[0, 7], anchor="y2", side="top", showgrid=False, zeroline=False,
                tickmode="array", tickvals=list(range(len(bin_labels))), ticktext=bin_labels, ticks="outside",
                ticklen=3, tickcolor="#8a8a8a", tickwidth=1, fixedrange=True, showline=False,
                tickfont=dict(family="Lato", size=13, color=TEXT)),
    yaxis2=dict(domain=[fy(528), fy(516)], range=[0, 1], anchor="x2", visible=False, fixedrange=True),
    xaxis3=dict(domain=[fx(186), fx(234)], range=[0, 1], anchor="y3", visible=False, fixedrange=True),
    yaxis3=dict(domain=[fy(528), fy(516)], range=[0, 1], anchor="x3", visible=False, fixedrange=True),
    shapes=[
        dict(type="rect", xref="paper", yref="paper", x0=fx(770), x1=fx(834), y0=fy(52), y1=fy(16), fillcolor="#002147", line_width=0),
        dict(type="rect", xref="paper", yref="paper", x0=fx(770), x1=fx(834), y0=fy(52), y1=fy(49.5), fillcolor="#ce261e", line_width=0),
    ],
    annotations=[
        label("<b>Share of small-scale manufacturing in total manufacturing</b>", 16, 31, 26.8, "#373737", "Liberation Serif"),
        label("2024", 692, 34, 18, "#6e6e6e"),
        label("Proportion of value added by small-scale manufacturing industries in total value added by manufacturing.", 16, 61, 15),
        label("No data", 210, 506, 13, xanchor="center"),
        label("<b>Data source:</b> United Nations Industrial Development Organization", 16, 556, 13),
        label("OurWorldinData.org/economic-growth | CC BY", 831, 556, 13, xanchor="right"),
        label("<b>Note:</b> Where data for 2024 is unavailable, the value from the closest year between 2014 and 2023 is shown instead.", 16, 576, 13),
        label("<b>Our World<br>in Data</b>", 802, 32.5, 11.5, "#ffffff", xanchor="center"),
    ],
)

fig.write_html("out.html")
